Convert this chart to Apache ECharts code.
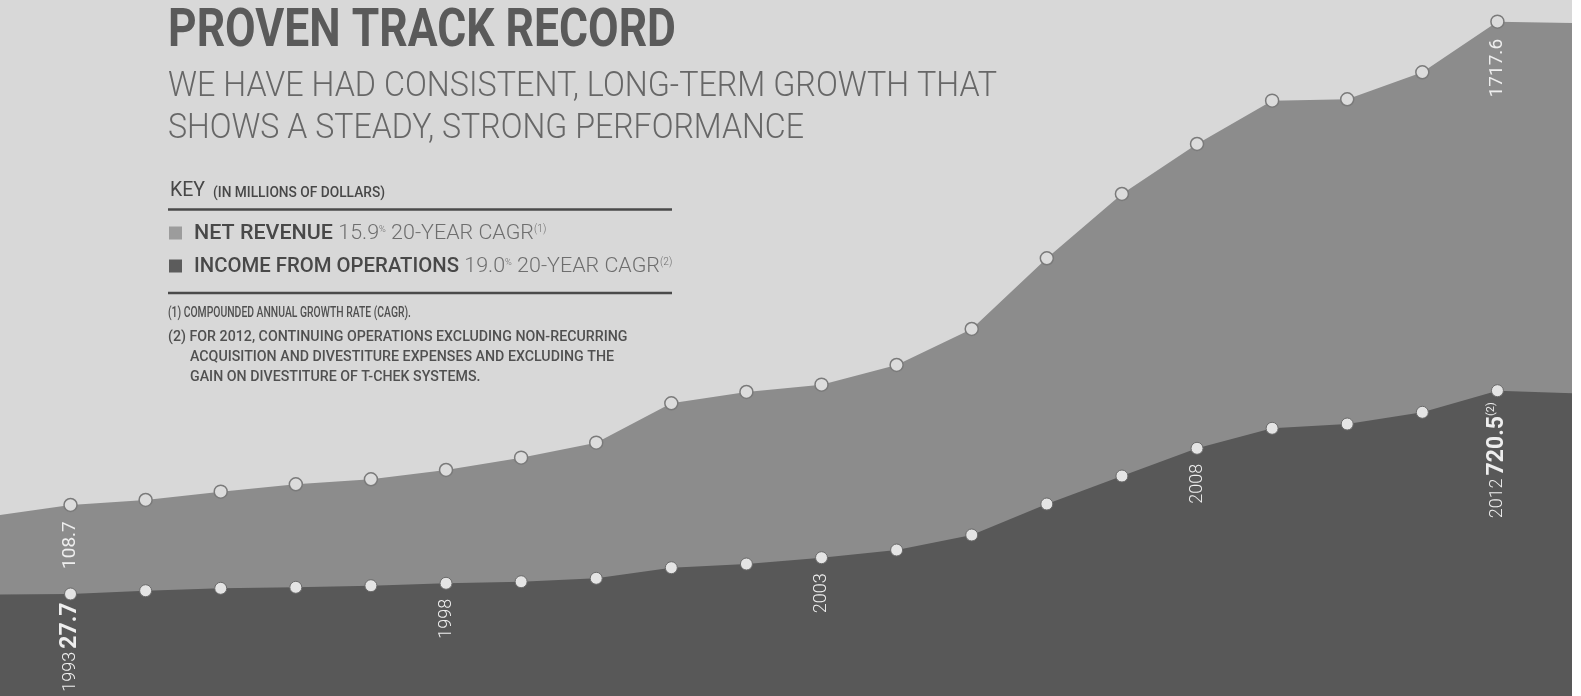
<!DOCTYPE html>
<html><head><meta charset="utf-8">
<script src="https://cdn.jsdelivr.net/npm/echarts@6/dist/echarts.min.js"></script>
<style>html,body{margin:0;padding:0;background:#fff;}#c{width:1581px;height:696px;}</style>
</head><body><div id="c"></div>
<script>
// ---- data (millions of dollars) ----
const years = [1993,1994,1995,1996,1997,1998,1999,2000,2001,2002,2003,2004,2005,2006,2007,2008,2009,2010,2011,2012];
const netRevenue = [108.7,125.3,153.0,177.6,194.2,225.2,266.2,316.1,447.3,484.9,509.2,574.8,694.6,930.0,1144.0,1310.5,1454.6,1459.3,1549.1,1717.6];
const incomeOps = [27.7,38.9,47.1,50.5,56.0,64.2,69.6,81.2,117.3,129.9,151.4,177.6,228.8,334.4,429.8,524.2,592.4,607.0,646.9,720.5];
// values where the bands leave the frame (left edge, right edge)
const revenueEdges = [75, 1713];
const incomeEdges = [26, 712];
const revenueLabels = {1993: '108.7', 2012: '1717.6'};
const incomeLabels = {1993: '{y|1993} {b|27.7}', 1998: '{y|1998}', 2003: '{y|2003}', 2008: '{y|2008}', 2012: '{y|2012} {b|720.5}{s|(2)}'};
const titleText = 'PROVEN TRACK RECORD';
const subtitleLines = ['WE HAVE HAD CONSISTENT, LONG-TERM GROWTH THAT', 'SHOWS A STEADY, STRONG PERFORMANCE'];
const legendNames = ['NET REVENUE', 'INCOME FROM OPERATIONS'];
const legendCagr = ['15.9', '19.0'];
const legendNotes = ['(1)', '(2)'];
const footnotes = ['(1) COMPOUNDED ANNUAL GROWTH RATE (CAGR).',
  '(2) FOR 2012, CONTINUING OPERATIONS EXCLUDING NON-RECURRING',
  'ACQUISITION AND DIVESTITURE EXPENSES AND EXCLUDING THE',
  'GAIN ON DIVESTITURE OF T-CHEK SYSTEMS.'];

// ---- layout ----
const X_MIN = 1992.061, X_MAX = 2012.993;
const F = 'Roboto, "DejaVu Sans", sans-serif';
const LABEL_COLOR = '#eeeeee';

const ctx = document.createElement('canvas').getContext('2d');
function tw(t, font){ ctx.font = font; return ctx.measureText(t).width; }
// lay out segments left to right; each segment compressed horizontally by its own (or common) scale
function seq(x, segs, s){
  let cx = x; const out = [];
  segs.forEach(g=>{
    const sc = g.s || s;
    out.push({type:'text', x:cx, y:g.y, scaleX:sc, z:100, silent:true,
      style:{text:g.t, font:g.font, fill:g.fill, verticalAlign:'middle', align:'left'}});
    cx += tw(g.t,g.font)*sc;
  });
  return out;
}
function row(x, segs, targetW){
  const total = segs.reduce((s,g)=>s+tw(g.t,g.font),0);
  return seq(x, segs, targetW/total);
}

const baseLabel = {show:true, position:'bottom', rotate:90, align:'right', verticalAlign:'middle', color:LABEL_COLOR, fontFamily:F};
function revItem(y,i){
  const d = {value:[y, netRevenue[i]]};
  if (revenueLabels[y]) d.label = Object.assign({}, baseLabel, {formatter: revenueLabels[y], fontSize:19, fontWeight:400, distance: y===2012?10:9});
  return d;
}
function incItem(y,i){
  const d = {value:[y, incomeOps[i]]};
  if (incomeLabels[y]) d.label = Object.assign({}, baseLabel, {formatter: incomeLabels[y], distance: y===1993?2:(y===2012?5:9),
    rich:{y:{fontSize:18, fontWeight:300, color:LABEL_COLOR, fontFamily:F},
          b:{fontSize:23, fontWeight:700, color:LABEL_COLOR, fontFamily:F},
          s:{fontSize:11, fontWeight:400, color:LABEL_COLOR, fontFamily:F, verticalAlign:'top', lineHeight:24}}});
  return d;
}
const revData = [{value:[X_MIN, revenueEdges[0]], symbol:'none'}].concat(years.map(revItem), [{value:[X_MAX, revenueEdges[1]], symbol:'none'}]);
const incData = [{value:[X_MIN, incomeEdges[0]], symbol:'none'}].concat(years.map(incItem), [{value:[X_MAX, incomeEdges[1]], symbol:'none'}]);

const graphics = [];
graphics.push(...row(168, [{t:titleText, font:'700 53px '+F, fill:'#5a5a5a', y:33}], 508));
graphics.push(...row(168, [{t:subtitleLines[0], font:'300 35px '+F, fill:'#676767', y:87.5}], 829));
graphics.push(...row(168, [{t:subtitleLines[1], font:'300 35px '+F, fill:'#676767', y:129}], 636));
// KEY line
const keyFont = '400 21px '+F, keySmall = '500 14px '+F;
graphics.push(...seq(170, [{t:'KEY', font:keyFont, fill:'#474747', y:191}], 35/tw('KEY', keyFont)));
graphics.push(...seq(213, [{t:'(IN MILLIONS OF DOLLARS)', font:keySmall, fill:'#474747', y:193.7}], 172/tw('(IN MILLIONS OF DOLLARS)', keySmall)));
graphics.push({type:'line', z:100, silent:true, shape:{x1:168,y1:209.5,x2:672,y2:209.5}, style:{stroke:'#4a4a4a', lineWidth:2.5}});
graphics.push({type:'line', z:100, silent:true, shape:{x1:168,y1:293,x2:672,y2:293}, style:{stroke:'#4a4a4a', lineWidth:2.5}});
graphics.push({type:'rect', z:100, silent:true, shape:{x:169,y:226.5,width:13,height:13}, style:{fill:'#9c9c9c'}});
graphics.push({type:'rect', z:100, silent:true, shape:{x:169,y:259.5,width:13,height:13}, style:{fill:'#5c5c5c'}});
const legFont = '500 21px '+F, legLight = '300 21px '+F;
const legScale = 139/tw(legendNames[0], legFont);
const nameWidths = [139, 265];
function legendRow(i, y){
  return seq(194, [
    {t:legendNames[i], font:legFont, fill:'#484848', y:y, s:nameWidths[i]/tw(legendNames[i], legFont)},
    {t:' '+legendCagr[i], font:legLight, fill:'#6e6e6e', y:y},
    {t:'%', font:'300 9px '+F, fill:'#6e6e6e', y:y-4},
    {t:' 20-YEAR CAGR', font:legLight, fill:'#6e6e6e', y:y},
    {t:legendNotes[i], font:'300 10px '+F, fill:'#6e6e6e', y:y-4}], legScale);
}
graphics.push(...legendRow(0, 233.5));
graphics.push(...legendRow(1, 266.5));
const fnFont = '500 15px '+F;
const fnScale = (230/tw('ACQUISITION AND DIVESTITURE EX', fnFont) + 290/tw(footnotes[3], fnFont))/2;
graphics.push(...row(168, [{t:footnotes[0], font:fnFont, fill:'#505050', y:313}], 243));
graphics.push(...seq(168, [{t:footnotes[1], font:fnFont, fill:'#505050', y:337}], fnScale));
graphics.push(...seq(190, [{t:footnotes[2], font:fnFont, fill:'#505050', y:357}], fnScale));
graphics.push(...seq(190, [{t:footnotes[3], font:fnFont, fill:'#505050', y:377}], fnScale));

const chart = echarts.init(document.getElementById('c'), null, {renderer:'canvas'});
chart.setOption({
  animation:false,
  backgroundColor:'#ffffff',
  grid:{left:0, top:0, width:1572, height:696, show:true, backgroundColor:'#d8d8d8', borderWidth:0},
  xAxis:{type:'value', min:X_MIN, max:X_MAX, show:false},
  yAxis:[
    {type:'value', min:-527.2, max:1789.8, show:false},
    {type:'value', min:-319.9, max:2051.9, show:false}
  ],
  series:[
    {type:'line', name:'Net revenue', yAxisIndex:0, data:revData, symbol:'circle', symbolSize:13,
     lineStyle:{width:0, opacity:0}, areaStyle:{color:'#8c8c8c', opacity:1, origin:'start'},
     itemStyle:{color:'#dcdcdc', borderColor:'#7a7a7a', borderWidth:1.5}, z:2, label:{show:false}},
    {type:'line', name:'Income from operations', yAxisIndex:1, data:incData, symbol:'circle', symbolSize:12,
     lineStyle:{width:0, opacity:0}, areaStyle:{color:'#585858', opacity:1, origin:'start'},
     itemStyle:{color:'#e4e4e4', borderColor:'#6a6a6a', borderWidth:1}, z:3, label:{show:false}}
  ],
  graphic: graphics
});
</script></body></html>
